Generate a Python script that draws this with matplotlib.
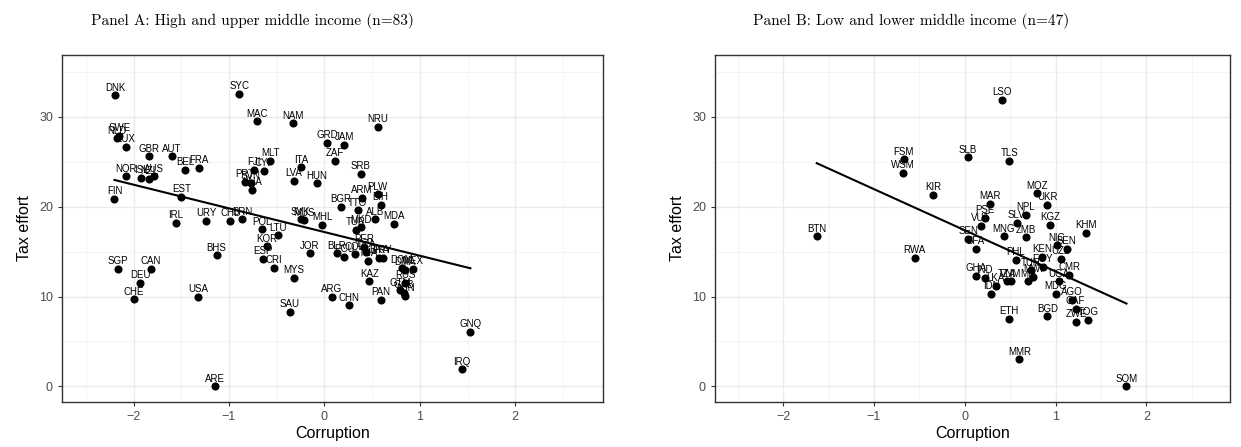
import matplotlib.pyplot as plt
import numpy as np

plt.rcParams['font.family'] = ['Liberation Sans', 'DejaVu Sans']

# Panel A: high and upper middle income
a_codes = ['DNK', 'SYC', 'MAC', 'NAM', 'SWE', 'NLD', 'LUX', 'GBR', 'AUT', 'BEL',
           'FRA', 'NOR', 'ISL', 'NZL', 'AUS', 'FIN', 'EST', 'IRL', 'URY', 'CHL',
           'BRN', 'FJI', 'CYP', 'MLT', 'PRT', 'SVN', 'KNA', 'ITA', 'LVA', 'HUN',
           'SVK', 'MUS', 'MHL', 'POL', 'LTU', 'KOR', 'ESP', 'CRI', 'MYS', 'JOR',
           'SAU', 'BHS', 'SGP', 'CAN', 'DEU', 'CHE', 'USA', 'ARE', 'NRU', 'GRD',
           'JAM', 'ZAF', 'SRB', 'ARM', 'PLW', 'BIH', 'BGR', 'TTO', 'ALB', 'MDA',
           'MKD', 'TUR', 'BLR', 'ECU', 'COL', 'DZA', 'THA', 'BRA', 'PRY', 'PER',
           'DOM', 'DMA', 'MEX', 'KAZ', 'RUS', 'GTM', 'GAB', 'LBN', 'ARG', 'CHN',
           'PAN', 'GNQ', 'IRQ']
a_corr = [-2.19, -0.89, -0.71, -0.33, -2.15, -2.17, -2.08, -1.84, -1.60, -1.46,
          -1.31, -2.08, -1.92, -1.84, -1.79, -2.20, -1.50, -1.56, -1.24, -0.99,
          -0.86, -0.74, -0.63, -0.57, -0.83, -0.77, -0.76, -0.24, -0.32, -0.08,
          -0.25, -0.21, -0.02, -0.65, -0.49, -0.60, -0.64, -0.53, -0.32, -0.15,
          -0.36, -1.13, -2.16, -1.82, -1.93, -2.00, -1.32, -1.15, 0.56, 0.03,
          0.21, 0.11, 0.38, 0.39, 0.56, 0.59, 0.17, 0.35, 0.53, 0.73,
          0.38, 0.33, 0.13, 0.21, 0.32, 0.44, 0.46, 0.57, 0.61, 0.42,
          0.81, 0.84, 0.93, 0.47, 0.85, 0.79, 0.83, 0.85, 0.08, 0.26,
          0.59, 1.53, 1.44]
a_tax = [32.4, 32.6, 29.5, 29.3, 27.9, 27.6, 26.7, 25.6, 25.6, 24.1,
         24.3, 23.4, 23.2, 23.1, 23.4, 20.9, 21.1, 18.2, 18.4, 18.4,
         18.6, 24.1, 24.0, 25.1, 22.8, 22.6, 21.9, 24.4, 22.9, 22.6,
         18.6, 18.5, 18.0, 17.5, 16.8, 15.6, 14.2, 13.2, 12.1, 14.8,
         8.3, 14.6, 13.1, 13.1, 11.5, 9.7, 10.0, 0.0, 28.9, 27.1,
         26.9, 25.1, 23.7, 21.0, 21.4, 20.2, 20.0, 19.6, 18.6, 18.1,
         17.7, 17.4, 14.8, 14.4, 14.7, 15.0, 14.0, 14.3, 14.3, 15.5,
         13.2, 13.0, 13.1, 11.7, 11.5, 10.7, 10.4, 10.1, 10.0, 9.0,
         9.6, 6.1, 1.9]

# Panel B: low and lower middle income
b_codes = ['FSM', 'WSM', 'KIR', 'BTN', 'LSO', 'SLB', 'TLS', 'MOZ', 'UKR', 'MAR',
           'NPL', 'PSE', 'SLV', 'KGZ', 'VUT', 'KHM', 'SEN', 'MNG', 'ZMB', 'BFA',
           'NIC', 'BEN', 'RWA', 'KEN', 'UZB', 'PHL', 'EGY', 'TUN', 'MWI', 'MLI',
           'CMR', 'UGA', 'GHA', 'IND', 'TZA', 'VNM', 'LKA', 'IDN', 'MDG', 'AGO',
           'CAF', 'ZWE', 'TOG', 'ETH', 'BGD', 'MMR', 'SOM']
b_corr = [-0.67, -0.68, -0.35, -1.63, 0.41, 0.03, 0.49, 0.79, 0.91, 0.28,
          0.67, 0.22, 0.57, 0.94, 0.18, 1.34, 0.04, 0.43, 0.67, 0.12,
          1.01, 1.12, -0.55, 0.85, 1.06, 0.56, 0.86, 0.73, 0.75, 0.70,
          1.15, 1.04, 0.12, 0.22, 0.46, 0.51, 0.34, 0.29, 1.00, 1.18,
          1.22, 1.23, 1.36, 0.49, 0.91, 0.60, 1.78]
b_tax = [25.3, 23.8, 21.3, 16.7, 31.9, 25.5, 25.1, 21.5, 20.2, 20.3,
         19.1, 18.8, 18.2, 18.0, 17.9, 17.1, 16.4, 16.7, 16.6, 15.3,
         15.7, 15.3, 14.3, 14.4, 14.2, 14.1, 13.3, 12.9, 12.2, 11.7,
         12.4, 11.7, 12.3, 12.1, 11.7, 11.7, 11.2, 10.3, 10.3, 9.6,
         8.6, 7.2, 7.4, 7.5, 7.8, 3.0, 0.0]

titles = ['Panel A: High and upper middle income (n=83)',
          'Panel B: Low and lower middle income (n=47)']

W, H = 1241, 447
fig = plt.figure(figsize=(W / 100, H / 100), dpi=100)
axA = fig.add_axes([62 / W, 45 / H, 541 / W, 347 / H])
axB = fig.add_axes([715 / W, 45 / H, 515 / W, 347 / H])


def panel(ax, codes, x, y):
    x = np.array(x)
    y = np.array(y)
    ax.set_axisbelow(True)
    ax.scatter(x, y, s=34, color='black', zorder=3, linewidths=0)
    for c, xi, yi in zip(codes, x, y):
        ax.annotate(c, (xi, yi), xytext=(0, 5.5), textcoords='offset points',
                    ha='center', va='center', fontsize=7, color='black', zorder=4)
    # linear fit
    b1, b0 = np.polyfit(x, y, 1)
    xs = np.array([x.min(), x.max()])
    ax.plot(xs, b0 + b1 * xs, color='black', lw=1.5, zorder=2)

    ax.set_xlim(-2.75, 2.92)
    ax.set_ylim(-1.75, 36.9)
    ax.set_xticks([-2, -1, 0, 1, 2])
    ax.set_xticklabels(['\u22122', '\u22121', '0', '1', '2'])
    ax.set_yticks([0, 10, 20, 30])
    ax.set_xticks(np.arange(-2.5, 3.0, 1.0), minor=True)
    ax.set_yticks([5, 15, 25, 35], minor=True)
    ax.grid(which='major', color='#EBEBEB', lw=1.0)
    ax.grid(which='minor', color='#F2F2F2', lw=0.6)
    ax.tick_params(which='major', length=3, color='#333333', labelcolor='#4D4D4D',
                   labelsize=9, width=0.8)
    ax.tick_params(which='minor', length=0)
    for s in ax.spines.values():
        s.set_color('#333333')
        s.set_linewidth(1.0)
    ax.set_xlabel('Corruption', fontsize=11.5, labelpad=2)
    ax.set_ylabel('Tax effort', fontsize=11.5, labelpad=5)


panel(axA, a_codes, a_corr, a_tax)
panel(axB, b_codes, b_corr, b_tax)

fig.text(252 / W, 1 - 21 / H, titles[0], ha='center', va='center',
         family='cmr10', fontsize=11)
fig.text(911 / W, 1 - 21 / H, titles[1], ha='center', va='center',
         family='cmr10', fontsize=11)

fig.savefig('out.png', dpi=100)
